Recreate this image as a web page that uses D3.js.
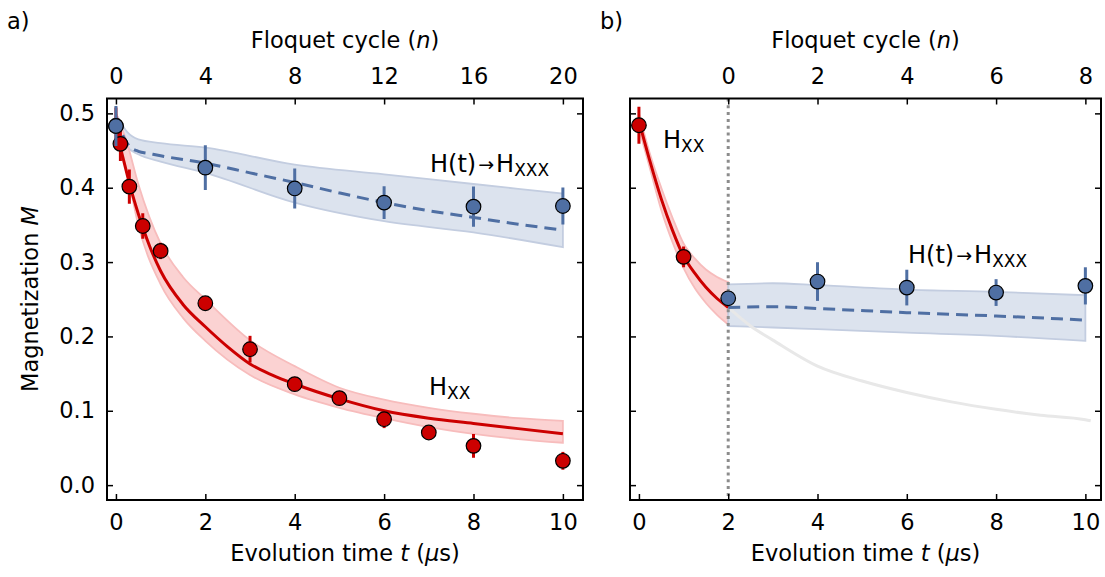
<!DOCTYPE html>
<html>
<head>
<meta charset="utf-8">
<script src="https://cdn.jsdelivr.net/npm/d3@7"></script>
<style>
body { margin: 0; background: #fff; }
text { font-family: "DejaVu Sans", Verdana, sans-serif; fill: #000; }
</style>
</head>
<body>
<script>
// ---- panel a) data ----
const aRedT   = [0, 0.1, 0.3, 0.6, 1, 2, 3, 4, 5, 6, 7, 8, 10];
const aRedM   = [0.483, 0.459, 0.4015, 0.3485, 0.315, 0.2446, 0.1828, 0.1358, 0.117, 0.0887, 0.0708, 0.0528, 0.0327];
const aRedErr = [0.025, 0.023, 0.023, 0.017, 0.011, 0.005, 0.018, 0.004, 0.004, 0.012, 0.005, 0.016, 0.012];

const aBlueT   = [0, 2, 4, 6, 8, 10];
const aBlueM   = [0.483, 0.427, 0.399, 0.380, 0.3745, 0.3754];
const aBlueErr = [0.027, 0.030, 0.027, 0.022, 0.027, 0.025];

const aRedFitT = [0, 0.1, 0.2, 0.35, 0.5, 0.75, 1, 1.5, 2, 2.5, 3, 3.5, 4, 5, 6, 7, 8, 9, 10];
const aRedFitM = [0.49, 0.455, 0.43, 0.395, 0.365, 0.322, 0.288, 0.243, 0.213, 0.186, 0.163, 0.148, 0.136, 0.116, 0.100, 0.090, 0.083, 0.076, 0.069];

const aRedBandT  = [0, 0.25, 0.5, 1, 1.5, 2, 3, 4, 5, 6, 7, 8, 9, 10];
const aRedBandHi = [0.50, 0.46, 0.405, 0.325, 0.28, 0.25, 0.195, 0.160, 0.131, 0.115, 0.104, 0.096, 0.090, 0.0865];
const aRedBandLo = [0.48, 0.42, 0.35, 0.27, 0.225, 0.194, 0.148, 0.122, 0.104, 0.090, 0.078, 0.069, 0.062, 0.057];

const aBlueFitT = [0, 0.1, 0.2, 0.3, 0.5, 0.75, 1, 2, 3, 4, 5, 6, 7, 8, 9, 10];
const aBlueFitM = [0.495, 0.478, 0.465, 0.456, 0.449, 0.446, 0.443, 0.433, 0.42, 0.407, 0.393, 0.38, 0.369, 0.36, 0.351, 0.343];

const aBlueBandT  = [0, 0.25, 0.5, 1, 2, 4, 6, 8, 10];
const aBlueBandHi = [0.50, 0.475, 0.465, 0.46, 0.454, 0.431, 0.418, 0.405, 0.392];
const aBlueBandLo = [0.49, 0.455, 0.445, 0.435, 0.42, 0.38, 0.355, 0.34, 0.32];

// ---- panel b) data ----
const bRedT   = [0, 1];
const bRedM   = [0.484, 0.307];
const bRedErr = [0.025, 0.014];

const bBlueT   = [2, 4, 6, 8, 10];
const bBlueM   = [0.2513, 0.2738, 0.2657, 0.259, 0.268];
const bBlueErr = [0.009, 0.026, 0.024, 0.018, 0.025];

const bRedFitT = [0, 0.25, 0.5, 0.75, 1, 1.25, 1.5, 1.75, 2];
const bRedFitM = [0.49, 0.435, 0.385, 0.343, 0.308, 0.285, 0.266, 0.251, 0.239];
const bRedBandHi = [0.50, 0.445, 0.40, 0.36, 0.325, 0.305, 0.29, 0.28, 0.273];
const bRedBandLo = [0.48, 0.425, 0.37, 0.327, 0.292, 0.265, 0.245, 0.229, 0.216];

const bGreyT = [2, 2.5, 3, 4, 5, 6, 7, 8, 9, 10, 10.12];
const bGreyM = [0.239, 0.214, 0.195, 0.160, 0.140, 0.1246, 0.112, 0.102, 0.094, 0.088, 0.0865];

const bBlueFitT  = [2, 3, 4, 6, 8, 10];
const bBlueFitM  = [0.239, 0.240, 0.2375, 0.232, 0.2275, 0.222];
const bBlueBandHi = [0.270, 0.2715, 0.269, 0.263, 0.260, 0.2554];
const bBlueBandLo = [0.214, 0.212, 0.2097, 0.205, 0.2007, 0.194];

// ticks
const yTicks = [0, 0.1, 0.2, 0.3, 0.4, 0.5];
const tTicks = [0, 2, 4, 6, 8, 10];
const aNTicks = [0, 4, 8, 12, 16, 20];
const bNTicks = [0, 2, 4, 6, 8];

const RED = "#cc0000", BLUE = "#4f6fa3";
const FS = 22.5;

const svg = d3.select("body").append("svg")
  .attr("width", 1105).attr("height", 577);

const y = d3.scaleLinear().domain([-0.02, 0.52]).range([500, 98.5]);

function zip(ts, ...cols) {
  return ts.map((t, i) => ({t: t, v: cols.map(c => c[i])}));
}

function styleAxis(sel, fs) {
  sel.select(".domain").remove();
  sel.selectAll(".tick line").attr("stroke", "#000").attr("stroke-width", 1.5);
  sel.selectAll(".tick text").attr("font-size", fs).attr("font-family", null).attr("fill", "#000");
  sel.attr("font-family", null);
}

function drawPanel(p) {
  const x = d3.scaleLinear().domain(p.xdom).range([p.left, p.right]);
  const xn = d3.scaleLinear().domain(p.xdom.map(p.toN)).range([p.left, p.right]);
  const g = svg.append("g");

  g.append("clipPath").attr("id", p.id + "clip")
    .append("rect").attr("x", p.left).attr("y", 98.5)
    .attr("width", p.right - p.left).attr("height", 500 - 98.5);
  const plot = g.append("g").attr("clip-path", `url(#${p.id}clip)`);

  const area = d3.area().x(d => x(d.t)).y0(d => y(d.v[1])).y1(d => y(d.v[0])).curve(d3.curveMonotoneX);
  const line = d3.line().x(d => x(d.t)).y(d => y(d.v[0])).curve(d3.curveMonotoneX);

  p.bands.forEach(b => {
    plot.append("path").datum(zip(b.t, b.hi, b.lo))
      .attr("d", area).attr("fill", b.fill).attr("stroke", b.edge).attr("stroke-width", 1.8);
  });
  p.lines.forEach(l => {
    plot.append("path").datum(zip(l.t, l.m))
      .attr("d", line).attr("fill", "none").attr("stroke", l.color)
      .attr("stroke-width", l.width || 3).attr("stroke-dasharray", l.dash || null);
  });
  if (p.vline != null) {
    plot.append("line").attr("x1", x(p.vline)).attr("x2", x(p.vline))
      .attr("y1", 98.5).attr("y2", 500)
      .attr("stroke", "#8c8c8c").attr("stroke-width", 3).attr("stroke-dasharray", "3,3.8");
  }
  p.points.forEach(s => {
    const d = zip(s.t, s.m, s.e);
    plot.append("g").selectAll("line").data(d).join("line")
      .attr("x1", q => x(q.t)).attr("x2", q => x(q.t))
      .attr("y1", q => y(q.v[0] - q.v[1])).attr("y2", q => y(q.v[0] + q.v[1]))
      .attr("stroke", s.color).attr("stroke-width", 3);
    plot.append("g").selectAll("circle").data(d).join("circle")
      .attr("cx", q => x(q.t)).attr("cy", q => y(q.v[0])).attr("r", 7.3)
      .attr("fill", s.color).attr("stroke", "#000").attr("stroke-width", 1.2);
  });

  // axes with inward ticks
  g.append("g").attr("transform", "translate(0,500)")
    .call(d3.axisBottom(x).tickValues(tTicks).tickSize(-6).tickSizeOuter(0).tickPadding(14))
    .call(styleAxis, FS);
  g.append("g").attr("transform", "translate(0,98.5)")
    .call(d3.axisTop(xn).tickValues(p.nTicks).tickSize(-6).tickSizeOuter(0).tickPadding(15))
    .call(styleAxis, FS);
  g.append("g").attr("transform", `translate(${p.left},0)`)
    .call(d3.axisLeft(y).tickValues(yTicks).tickSize(-6).tickSizeOuter(0).tickPadding(12)
      .tickFormat(p.yLabels ? d3.format(".1f") : ""))
    .call(styleAxis, FS);
  g.append("g").attr("transform", `translate(${p.right},0)`)
    .call(d3.axisRight(y).tickValues(yTicks).tickSize(-6).tickSizeOuter(0).tickFormat(""))
    .call(styleAxis, FS);

  g.append("rect").attr("x", p.left).attr("y", 98.5)
    .attr("width", p.right - p.left).attr("height", 500 - 98.5)
    .attr("fill", "none").attr("stroke", "#000").attr("stroke-width", 2);

  const cx = (p.left + p.right) / 2;
  const xl = g.append("text").attr("x", cx).attr("y", 561).attr("text-anchor", "middle").attr("font-size", FS);
  xl.append("tspan").text("Evolution time ");
  xl.append("tspan").attr("font-style", "italic").text("t");
  xl.append("tspan").text(" (");
  xl.append("tspan").attr("font-style", "italic").text("\u03bc");
  xl.append("tspan").text("s)");

  const tl = g.append("text").attr("x", cx).attr("y", 48).attr("text-anchor", "middle").attr("font-size", FS);
  tl.append("tspan").text("Floquet cycle (");
  tl.append("tspan").attr("font-style", "italic").text("n");
  tl.append("tspan").text(")");

  g.append("text").attr("x", p.tagX).attr("y", 29).attr("font-size", FS).text(p.tag);

  p.notes.forEach(n => {
    const t = g.append("text").attr("x", n.x).attr("y", n.y).attr("font-size", 24);
    if (n.arrow) {
      t.append("tspan").text("H(t)");
      t.append("tspan").attr("font-size", 19).attr("dx", 2).attr("dy", -1).text("\u2192");
      t.append("tspan").attr("dx", 2).attr("dy", 1).text("H");
    } else {
      t.append("tspan").text("H");
    }
    t.append("tspan").attr("font-size", 17).attr("dy", 4).text(n.sub);
  });
}

drawPanel({
  id: "a", left: 107, right: 583, xdom: [-0.2, 10.45], toN: t => t * 2,
  nTicks: aNTicks, yLabels: true, tag: "a)", tagX: 7, vline: null,
  bands: [
    {t: aBlueBandT, hi: aBlueBandHi, lo: aBlueBandLo, fill: "#dce3ee", edge: "#c3cde0"},
    {t: aRedBandT, hi: aRedBandHi, lo: aRedBandLo, fill: "#fbd2d2", edge: "#f7bcbc"}
  ],
  lines: [
    {t: aRedFitT, m: aRedFitM, color: RED},
    {t: aBlueFitT, m: aBlueFitM, color: BLUE, dash: "12,7"}
  ],
  points: [
    {t: aRedT, m: aRedM, e: aRedErr, color: RED},
    {t: aBlueT, m: aBlueM, e: aBlueErr, color: BLUE}
  ],
  notes: [
    {x: 430, y: 172, sub: "XXX", arrow: true},
    {x: 429, y: 395, sub: "XX"}
  ]
});

drawPanel({
  id: "b", left: 630, right: 1101, xdom: [-0.2, 10.35], toN: t => t - 2,
  nTicks: bNTicks, yLabels: false, tag: "b)", tagX: 600, vline: 2,
  bands: [
    {t: bRedFitT, hi: bRedBandHi, lo: bRedBandLo, fill: "#fbd2d2", edge: "#f7bcbc"},
    {t: bBlueFitT, hi: bBlueBandHi, lo: bBlueBandLo, fill: "#dce3ee", edge: "#c3cde0"}
  ],
  lines: [
    {t: bGreyT, m: bGreyM, color: "#e8e8e8"},
    {t: bRedFitT, m: bRedFitM, color: RED},
    {t: bBlueFitT, m: bBlueFitM, color: BLUE, dash: "12,7"}
  ],
  points: [
    {t: bRedT, m: bRedM, e: bRedErr, color: RED},
    {t: bBlueT, m: bBlueM, e: bBlueErr, color: BLUE}
  ],
  notes: [
    {x: 908, y: 263, sub: "XXX", arrow: true},
    {x: 663, y: 148, sub: "XX"}
  ]
});

// y axis label
const yl = svg.append("text").attr("transform", "translate(38,299) rotate(-90)")
  .attr("text-anchor", "middle").attr("font-size", FS);
yl.append("tspan").text("Magnetization ");
yl.append("tspan").attr("font-style", "italic").text("M");
</script>
</body>
</html>
